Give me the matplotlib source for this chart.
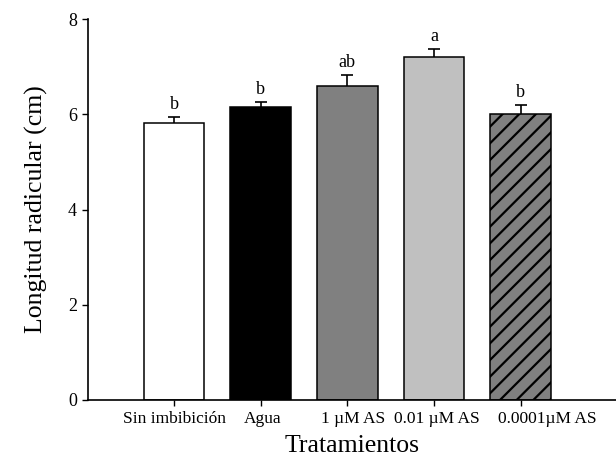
import matplotlib
matplotlib.use("Agg")
import matplotlib.pyplot as plt
import matplotlib.transforms as mtransforms

# datos
tratamientos = ["Sin imbibición", "Agua", "1 µM AS", "0.01 µM AS", "0.0001µM AS"]
longitud = [5.81, 6.15, 6.60, 7.21, 6.01]
error = [0.14, 0.11, 0.22, 0.17, 0.19]
letras = ["b", "b", "ab", "a", "b"]

colores = ["white", "black", "#808080", "#c0c0c0", "#808080"]
tramas = ["", "", "", "", "//"]

plt.rcParams["font.family"] = ["Liberation Serif", "DejaVu Serif"]
plt.rcParams["hatch.linewidth"] = 1.6

fig = plt.figure(figsize=(6.16, 4.62), dpi=100)
ax = fig.add_axes([88 / 616, 1 - 400 / 462, 528 / 616, 381 / 462])

x = list(range(len(tratamientos)))
bars = ax.bar(x, longitud, width=0.70, color=colores, edgecolor="black",
              linewidth=1.1, zorder=3)
for b, h in zip(bars, tramas):
    b.set_hatch(h)

# solo la parte superior del error (la inferior queda tapada por la barra)
ax.errorbar(x, longitud, yerr=error, fmt="none",
            ecolor="black", elinewidth=1.2, capsize=4.5, capthick=1.2, zorder=2)

for xi, v, e, t in zip(x, longitud, error, letras):
    ax.text(xi, v + e + 0.08, t, ha="center", va="bottom", fontsize=13)

ax.set_xlim(-0.993, 5.10)
ax.set_ylim(0, 8)
ax.set_yticks([0, 2, 4, 6, 8])
ax.set_xticks(x)
ax.set_xticklabels(tratamientos, fontsize=12.5)
ax.tick_params(axis="y", labelsize=13, direction="out", length=4.5, width=1)
ax.tick_params(axis="x", direction="out", length=4.5, width=1)

# desplazar etiquetas como en el original
desp = [0, 2, 6, 3, 27]
for lab, d in zip(ax.get_xticklabels(), desp):
    lab.set_transform(lab.get_transform() + mtransforms.ScaledTranslation(d / 100, 0, fig.dpi_scale_trans))

for s in ["top", "right"]:
    ax.spines[s].set_visible(False)
for s in ["left", "bottom"]:
    ax.spines[s].set_linewidth(1.2)
    ax.spines[s].set_zorder(4)

ax.set_xlabel("Tratamientos", fontsize=18.5, labelpad=6)
ax.set_ylabel("Longitud radicular (cm)", fontsize=18.5, labelpad=14)

fig.savefig("out.png", dpi=100)
